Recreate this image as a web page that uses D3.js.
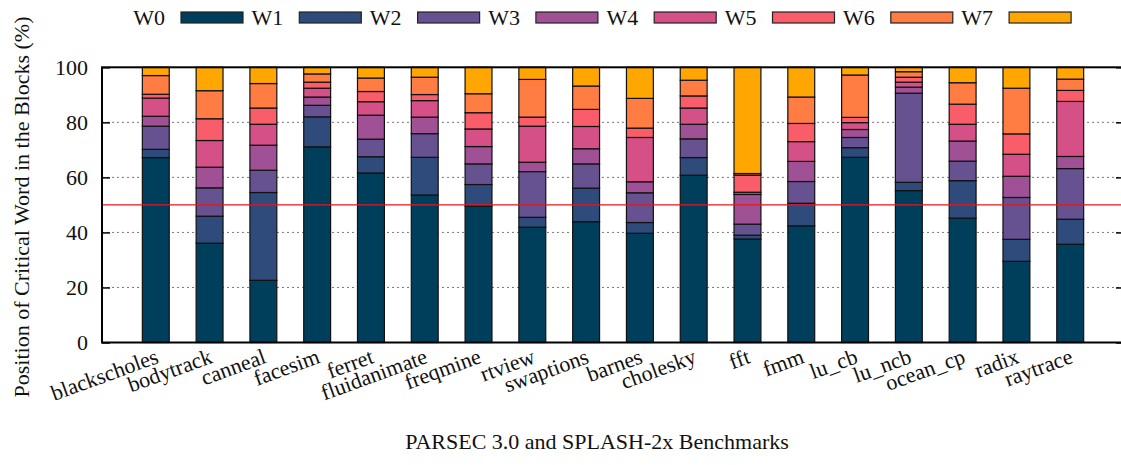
<!DOCTYPE html>
<html>
<head>
<meta charset="utf-8">
<script src="https://cdnjs.cloudflare.com/ajax/libs/d3/7.8.5/d3.min.js"></script>
<style>
	body{margin:0;padding:0;background:#fff;}
	svg text{font-family:"Liberation Serif","DejaVu Serif",serif;fill:#111;}
</style>
</head>
<body>
<div id="chart"></div>
<script>
var benchmarks = ['blackscholes','bodytrack','canneal','facesim','ferret','fluidanimate','freqmine','rtview','swaptions',
	'barnes','cholesky','fft','fmm','lu_cb','lu_ncb','ocean_cp','radix','raytrace'];
var words = ['W0','W1','W2','W3','W4','W5','W6','W7'];

// share (%) of accesses where the critical word is Wn
var w0 = [67.2,36.1,22.6,71.1,61.6,53.6,49.6,41.9,43.9,39.7,60.8,37.6,42.4,67.3,55.2,45.2,29.5,35.7];
var w1 = [3.0,9.8,31.9,10.9,5.9,13.7,7.8,3.6,12.2,3.9,6.4,1.4,8.2,3.5,3.0,13.6,8.0,9.1];
var w2 = [8.4,10.3,8.1,4.2,6.4,8.6,7.5,16.6,8.8,10.8,6.8,4.0,7.9,3.7,32.4,7.1,15.2,18.4];
var w3 = [3.6,7.5,9.1,3.0,8.7,6.0,6.3,3.4,5.5,4.0,5.3,10.8,7.3,2.9,2.2,7.3,7.7,4.4];
var w4 = [6.6,9.7,7.6,3.2,4.9,6.0,6.4,13.1,8.1,16.1,5.9,0.8,7.2,2.5,1.8,6.1,8.0,20.0];
var w5 = [1.4,7.9,5.9,2.2,3.7,2.2,5.9,3.3,6.2,3.4,4.4,6.2,6.6,1.9,1.8,7.3,7.4,4.0];
var w6 = [6.8,10.2,8.9,3.0,4.9,6.3,6.9,13.7,8.5,10.8,5.7,0.6,9.6,15.4,2.0,7.8,16.6,4.1];
var w7 = [3.0,8.5,5.9,2.4,3.9,3.6,9.6,4.4,6.8,11.3,4.7,38.6,10.8,2.8,1.6,5.6,7.6,4.3];

var yTicks = [0,20,40,60,80,100];
var gridTicks = [20,40,60,80];
var refLine = 50;

var colors = ['#003f5c','#2f4b7c','#665191','#a05195','#d45087','#f95d6a','#ff7c43','#ffa600'];

var W = 1121, H = 465;
var plotL = 102, plotR = 1124, plotT = 67.3, plotB = 342.5;
var font = '"Liberation Serif","DejaVu Serif",serif';

///****************************************///
///*****        build the table      *******///
///****************************************///
var series = [w0,w1,w2,w3,w4,w5,w6,w7];
var rows = benchmarks.map(function(b,i){
	var r = {name:b};
	words.forEach(function(w,k){ r[w] = series[k][i]; });
	return r;
});
var stacked = d3.stack().keys(words)(rows);

var x = d3.scaleBand().domain(benchmarks).range([plotL,plotR])
	.paddingInner(0.5).paddingOuter(0.75);
var y = d3.scaleLinear().domain([0,100]).range([plotB,plotT]);
var color = d3.scaleOrdinal().domain(words).range(colors);

var svg = d3.select('#chart').append('svg')
	.attr('width',W).attr('height',H);

// dotted grid
svg.append('g').selectAll('line').data(gridTicks).enter().append('line')
	.attr('x1',plotL).attr('x2',plotR)
	.attr('y1',function(d){return y(d);}).attr('y2',function(d){return y(d);})
	.attr('stroke','#777').attr('stroke-width',1).attr('stroke-dasharray','2,3');

// bars
svg.append('g').selectAll('g').data(stacked).enter().append('g')
	.attr('fill',function(d){return color(d.key);})
	.selectAll('rect').data(function(d){return d;}).enter().append('rect')
	.attr('x',function(d){return x(d.data.name);})
	.attr('width',x.bandwidth())
	.attr('y',function(d){return y(d[1]);})
	.attr('height',function(d){return y(d[0])-y(d[1]);})
	.attr('stroke','#111').attr('stroke-width',1.2);

// 50% reference
svg.append('line')
	.attr('x1',plotL).attr('x2',plotR).attr('y1',y(refLine)).attr('y2',y(refLine))
	.attr('stroke','#e8141c').attr('stroke-width',1.2);

// axes, ticks pointing inward on both sides
var yl = svg.append('g').attr('transform','translate('+plotL+',0)')
	.call(d3.axisRight(y).tickValues(yTicks).tickSize(8).tickFormat(''));
var yr = svg.append('g').attr('transform','translate('+plotR+',0)')
	.call(d3.axisLeft(y).tickValues(yTicks).tickSize(8).tickFormat(''));
[yl,yr].forEach(function(a){
	a.select('.domain').remove();
	a.selectAll('line').attr('stroke','#000').attr('stroke-width',1.5);
});

svg.append('g').selectAll('text').data(yTicks).enter().append('text')
	.attr('x',plotL-14).attr('y',function(d){return y(d);})
	.attr('dy','0.35em').attr('text-anchor','end')
	.attr('font-family',font).style('font-size','22px').text(function(d){return d;});

// frame
svg.append('rect').attr('x',plotL).attr('y',plotT)
	.attr('width',plotR-plotL).attr('height',plotB-plotT)
	.attr('fill','none').attr('stroke','#000').attr('stroke-width',2);

// rotated benchmark names
svg.append('g').selectAll('text').data(benchmarks).enter().append('text')
	.attr('text-anchor','end')
	.attr('transform',function(d){
		var cx = x(d)+x.bandwidth()/2+4;
		return 'translate('+cx+','+(plotB+20)+') rotate(-20)';
	})
	.attr('font-family',font).style('font-size','22px').text(function(d){return d;});

svg.append('text').attr('x',597).attr('y',449).attr('text-anchor','middle')
	.attr('font-family',font).style('font-size','22px').text('PARSEC 3.0 and SPLASH-2x Benchmarks');

svg.append('text').attr('transform','translate(29,207) rotate(-90)')
	.attr('text-anchor','middle').attr('font-family',font).style('font-size','22px')
	.text('Position of Critical Word in the Blocks (%)');

///****************************************///
///*****            legend           *******///
///****************************************///
var leg = svg.append('g').selectAll('g').data(words).enter().append('g')
	.attr('transform',function(d,i){return 'translate('+(181+i*118.3)+',0)';});
leg.append('text').attr('x',-16).attr('y',25).attr('text-anchor','end')
	.attr('font-family',font).style('font-size','22px').text(function(d){return d;});
leg.append('rect').attr('x',0).attr('y',12).attr('width',62).attr('height',11)
	.attr('fill',function(d){return color(d);})
	.attr('stroke','#222').attr('stroke-width',1.2);
</script>
</body>
</html>
